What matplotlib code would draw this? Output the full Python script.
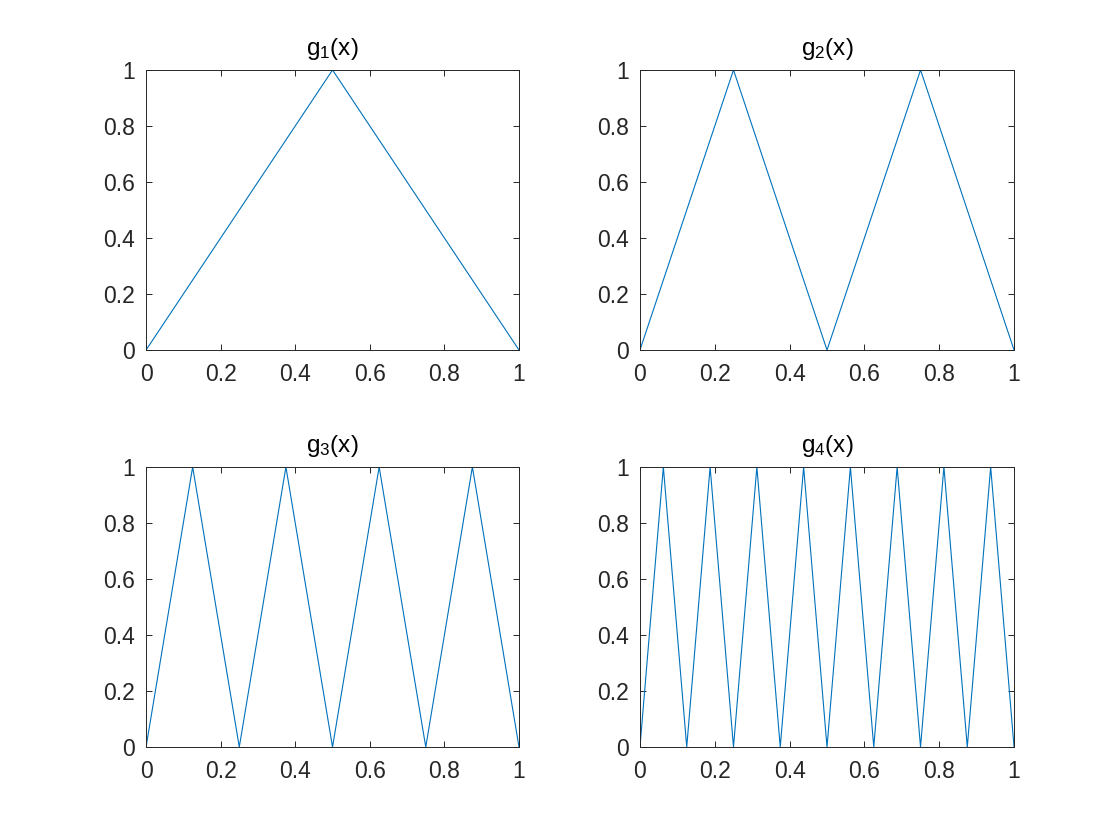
import matplotlib
matplotlib.use("Agg")
import matplotlib.pyplot as plt

plt.rcParams["font.family"] = ["Liberation Sans", "DejaVu Sans"]
plt.rcParams["mathtext.default"] = "regular"

# vertex lists of the triangle functions g_n(x)
X1 = [0, 0.5, 1]
Y1 = [0, 1, 0]
X2 = [0, 0.25, 0.5, 0.75, 1]
Y2 = [0, 1, 0, 1, 0]
X3 = [0, 0.125, 0.25, 0.375, 0.5, 0.625, 0.75, 0.875, 1]
Y3 = [0, 1, 0, 1, 0, 1, 0, 1, 0]
X4 = [0, 0.0625, 0.125, 0.1875, 0.25, 0.3125, 0.375, 0.4375, 0.5,
      0.5625, 0.625, 0.6875, 0.75, 0.8125, 0.875, 0.9375, 1]
Y4 = [0, 1, 0, 1, 0, 1, 0, 1, 0, 1, 0, 1, 0, 1, 0, 1, 0]

TITLES = ["g$_{1}$(x)", "g$_{2}$(x)", "g$_{3}$(x)", "g$_{4}$(x)"]
TICKS = [0, 0.2, 0.4, 0.6, 0.8, 1]
TICK_LABELS = ["0", "0.2", "0.4", "0.6", "0.8", "1"]

LINE_COLOR = "#0072BD"
AX_COLOR = "#262626"

# axes rectangles [left, bottom, width, height] in figure fractions
POS = [
    [0.1304, 0.5833, 0.3330, 0.3334],
    [0.5714, 0.5833, 0.3340, 0.3334],
    [0.1304, 0.1107, 0.3330, 0.3334],
    [0.5714, 0.1107, 0.3340, 0.3334],
]

fig = plt.figure(figsize=(11.2, 8.4), dpi=100, facecolor="white")

series = [(X1, Y1), (X2, Y2), (X3, Y3), (X4, Y4)]
for pos, (xs, ys), title in zip(POS, series, TITLES):
    ax = fig.add_axes(pos)
    ax.plot(xs, ys, color=LINE_COLOR, lw=0.8)
    ax.set_xlim(0, 1)
    ax.set_ylim(0, 1)
    ax.set_xticks(TICKS)
    ax.set_xticklabels(TICK_LABELS)
    ax.set_yticks(TICKS)
    ax.set_yticklabels(TICK_LABELS)
    ax.tick_params(direction="in", top=True, right=True, length=4.5,
                   width=0.7, colors=AX_COLOR, labelsize=16.5)
    ax.tick_params(axis="x", pad=9)
    ax.tick_params(axis="y", pad=8)
    for sp in ax.spines.values():
        sp.set_edgecolor(AX_COLOR)
        sp.set_linewidth(0.7)
    ax.set_title(title, fontsize=17.5, color="black", pad=11)

plt.savefig("out.png", dpi=100, facecolor="white")
